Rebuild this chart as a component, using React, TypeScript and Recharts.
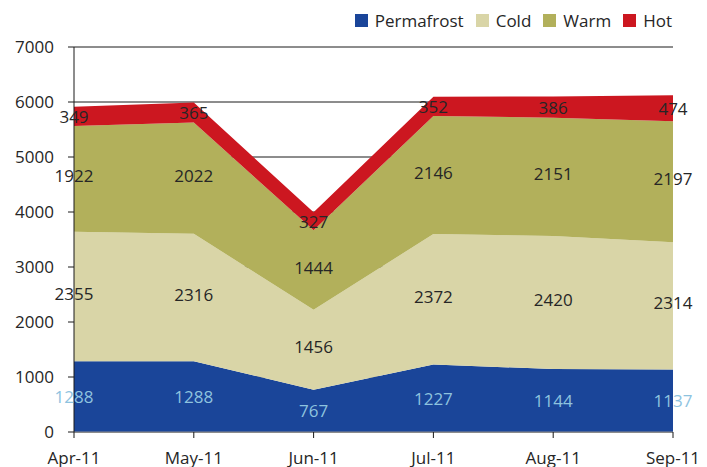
import React from "react";
import {
  ComposedChart,
  Area,
  Line,
  LabelList,
  CartesianGrid,
  XAxis,
  YAxis,
} from "recharts";

const months = ["Apr-11", "May-11", "Jun-11", "Jul-11", "Aug-11", "Sep-11"];
const permafrost = [1288, 1288, 767, 1227, 1144, 1137];
const cold = [2355, 2316, 1456, 2372, 2420, 2314];
const warm = [1922, 2022, 1444, 2146, 2151, 2197];
const hot = [349, 365, 327, 352, 386, 474];
const yTicks = [0, 1000, 2000, 3000, 4000, 5000, 6000, 7000];

const FONT = "'Open Sans', 'Noto Sans', sans-serif";
const TEXT = "#262626";

const series = [
  { key: "Permafrost", values: permafrost, fill: "#1a4599", label: "#8ec3df" },
  { key: "Cold", values: cold, fill: "#d9d5a7", label: TEXT },
  { key: "Warm", values: warm, fill: "#b2b05b", label: TEXT },
  { key: "Hot", values: hot, fill: "#cc1720", label: TEXT },
];

// each row carries the raw value plus the middle of its stacked band (for the labels)
const data = months.map((month, i) => {
  const row: Record<string, string | number> = { month };
  let base = 0;
  series.forEach((s) => {
    row[s.key] = s.values[i];
    row[s.key + "Mid"] = base + s.values[i] / 2;
    base += s.values[i];
  });
  return row;
});

function Legend() {
  return (
    <div
      style={{
        position: "absolute",
        top: 9,
        right: 35,
        display: "flex",
        alignItems: "center",
        fontFamily: FONT,
        fontSize: 17,
        color: TEXT,
      }}
    >
      {series.map((s) => (
        <div
          key={s.key}
          style={{ display: "flex", alignItems: "center", marginLeft: 12 }}
        >
          <span
            style={{
              width: 13,
              height: 13,
              background: s.fill,
              display: "inline-block",
              marginRight: 7,
            }}
          />
          {s.key}
        </div>
      ))}
    </div>
  );
}

export default function App() {
  return (
    <div
      style={{
        position: "absolute",
        left: 0,
        top: 0,
        width: 707,
        height: 467,
        background: "#fff",
        overflow: "hidden",
      }}
    >
      <Legend />
      <ComposedChart
        width={707}
        height={467}
        data={data}
        margin={{ top: 47, right: 34, bottom: 0, left: 0 }}
      >
        <CartesianGrid vertical={false} stroke="#1a1a1a" />
        <XAxis
          dataKey="month"
          scale="point"
          height={35}
          tickSize={6}
          tickMargin={14}
          axisLine={{ stroke: "#8c8c8c" }}
          tickLine={{ stroke: "#1a1a1a" }}
          tick={{ fontSize: 17, fill: TEXT, fontFamily: FONT }}
          interval={0}
        />
        <YAxis
          width={74}
          domain={[0, 7000]}
          ticks={yTicks}
          tickSize={6}
          tickMargin={14}
          axisLine={{ stroke: "#1a1a1a" }}
          tickLine={{ stroke: "#1a1a1a" }}
          tick={{ fontSize: 17, fill: TEXT, fontFamily: FONT }}
        />
        {series.map((s) => (
          <Area
            key={s.key}
            type="linear"
            dataKey={s.key}
            stackId="a"
            fill={s.fill}
            fillOpacity={1}
            stroke="none"
            isAnimationActive={false}
          />
        ))}
        {series.map((s) => (
          <Line
            key={s.key + "Mid"}
            type="linear"
            dataKey={s.key + "Mid"}
            stroke="none"
            dot={false}
            activeDot={false}
            legendType="none"
            isAnimationActive={false}
          >
            <LabelList
              dataKey={s.key}
              content={(p: any) => (
                <text
                  x={p.x}
                  y={p.y}
                  dy={s.key === "Cold" || s.key === "Warm" ? -3 : 0}
                  textAnchor="middle"
                  dominantBaseline="central"
                  fontSize={17}
                  fontFamily={FONT}
                  fill={s.label}
                >
                  {p.value}
                </text>
              )}
            />
          </Line>
        ))}
      </ComposedChart>
    </div>
  );
}
